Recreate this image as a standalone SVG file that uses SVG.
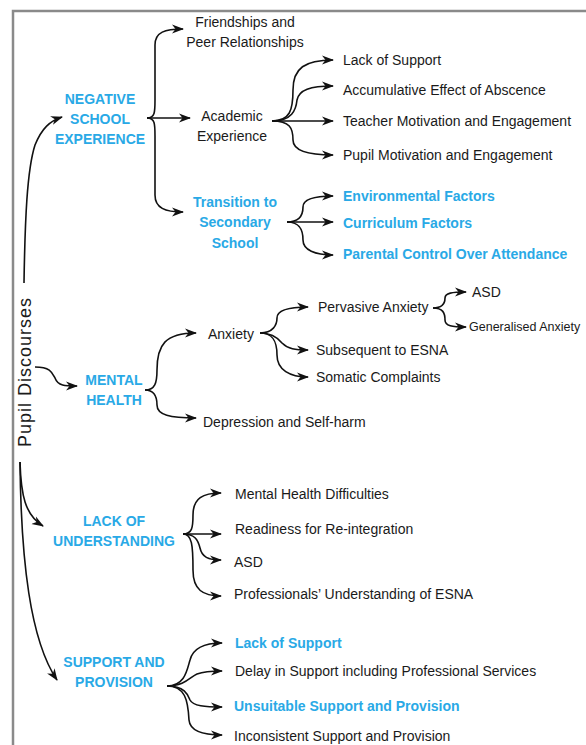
<svg xmlns="http://www.w3.org/2000/svg" width="586" height="745" viewBox="0 0 586 745">
<defs>
<marker id="ah" viewBox="0 0 12 10" refX="11" refY="5" markerWidth="12" markerHeight="10" markerUnits="userSpaceOnUse" orient="auto">
<path d="M0,0.5 L12,5 L0,9.5 L3.5,5 z" fill="#111"/>
</marker>
<style>
.t{font-family:"Liberation Sans",Arial,sans-serif;font-size:14px;fill:#1a1a1a}
.b{font-family:"Liberation Sans",Arial,sans-serif;font-size:14px;font-weight:bold;fill:#29a9e6}
.c{text-anchor:middle}
.e{fill:none;stroke:#111;stroke-width:1.6;marker-end:url(#ah)}
</style>
</defs>
<rect width="586" height="745" fill="#fff"/>
<path d="M13,745 L13,11 L586,11" fill="none" stroke="#8a8a8a" stroke-width="2.5"/>

<g id="connectors">
<path class="e" d="M24,283 C25,220 27,170 35,145 C42,128 50,121 62,117"/>
<path class="e" d="M35,367 C50,367 52,372 55,378 C58,386 65,386 77,386"/>
<path class="e" d="M20,462 C21,495 25,515 43,526"/>
<path class="e" d="M20,462 C21,560 30,640 57,680"/>

<path class="e" d="M147,118 C155,118 155,112 155,100 L155,45 C155,32 165,29 183,29"/>
<path class="e" d="M147,118 L190,118"/>
<path class="e" d="M147,118 C155,118 155,124 155,136 L155,195 C155,208 165,212 183,212"/>

<path class="e" d="M272,121 C290,121 293,110 293,90 C293,68 305,60 333,60"/>
<path class="e" d="M272,121 C292,121 296,110 297,100 C299,90 310,86 333,86"/>
<path class="e" d="M272,121 L333,121"/>
<path class="e" d="M272,121 C290,121 293,128 293,140 C293,150 305,155 333,155"/>

<path class="e" d="M287,222 C300,222 303,215 303,207 C303,199 315,196 333,196"/>
<path class="e" d="M287,222 L333,222"/>
<path class="e" d="M287,222 C300,222 303,230 303,240 C303,250 315,255 333,255"/>

<path class="e" d="M145,390 C155,390 157,383 157,370 C157,345 165,333 196,333"/>
<path class="e" d="M145,390 C155,390 157,398 157,405 C157,415 170,418 196,418"/>

<path class="e" d="M260,333 C273,333 277,325 277,318 C277,310 290,307 308,307"/>
<path class="e" d="M260,333 C272,333 278,338 282,343 C288,349 295,350 308,350"/>
<path class="e" d="M260,333 C272,333 277,340 277,355 C277,370 290,377 308,377"/>

<path class="e" d="M433,308 C443,308 445,303 445,298 C445,293 452,292 466,292"/>
<path class="e" d="M433,308 C443,308 445,313 445,320 C445,326 452,327 466,327"/>

<path class="e" d="M183,534 C192,534 193,528 193,515 C193,498 203,493 221,493"/>
<path class="e" d="M183,534 L221,534"/>
<path class="e" d="M183,534 C195,534 198,540 200,548 C202,557 208,560 221,560"/>
<path class="e" d="M183,534 C192,534 193,545 193,570 C193,590 203,596 221,596"/>

<path class="e" d="M167,686 C185,686 187,670 190,660 C193,648 205,643 222,643"/>
<path class="e" d="M167,686 C185,686 190,677 197,674 C205,671 212,671 222,671"/>
<path class="e" d="M167,686 C185,686 188,695 190,700 C193,706 205,707 222,707"/>
<path class="e" d="M167,686 C185,686 188,700 189,720 C190,732 205,735 222,735"/>
</g>

<g id="root"><text transform="translate(31,372) rotate(-90)" text-anchor="middle" font-family="Liberation Sans, Arial, sans-serif" font-size="18" letter-spacing="1" fill="#1a1a1a">Pupil Discourses</text></g>

<g id="negative"><text class="b c" x="100" y="104">NEGATIVE</text><text class="b c" x="100" y="124">SCHOOL</text><text class="b c" x="100" y="144">EXPERIENCE</text></g>
<g id="friendships"><text class="t c" x="245" y="27">Friendships and</text><text class="t c" x="245" y="47">Peer Relationships</text></g>
<g id="academic"><text class="t c" x="232" y="121">Academic</text><text class="t c" x="232" y="141">Experience</text></g>
<g id="transition"><text class="b c" x="235" y="207">Transition to</text><text class="b c" x="235" y="227">Secondary</text><text class="b c" x="235" y="248">School</text></g>
<g id="a1"><text class="t" x="343" y="65">Lack of Support</text></g>
<g id="a2"><text class="t" x="343" y="95">Accumulative Effect of Abscence</text></g>
<g id="a3"><text class="t" x="343" y="126">Teacher Motivation and Engagement</text></g>
<g id="a4"><text class="t" x="343" y="160">Pupil Motivation and Engagement</text></g>
<g id="t1"><text class="b" x="343" y="201">Environmental Factors</text></g>
<g id="t2"><text class="b" x="343" y="228">Curriculum Factors</text></g>
<g id="t3"><text class="b" x="343" y="259">Parental Control Over Attendance</text></g>

<g id="mental"><text class="b c" x="114" y="385">MENTAL</text><text class="b c" x="114" y="405">HEALTH</text></g>
<g id="anxiety"><text class="t" x="208" y="339">Anxiety</text></g>
<g id="pervasive"><text class="t" x="318" y="312">Pervasive Anxiety</text></g>
<g id="asd1"><text class="t" x="472" y="297">ASD</text></g>
<g id="generalised"><text class="t" x="469" y="331" style="font-size:12.5px">Generalised Anxiety</text></g>
<g id="subsequent"><text class="t" x="316" y="355">Subsequent to ESNA</text></g>
<g id="somatic"><text class="t" x="316" y="382">Somatic Complaints</text></g>
<g id="depression"><text class="t" x="203" y="427">Depression and Self-harm</text></g>

<g id="lack"><text class="b c" x="114" y="526">LACK OF</text><text class="b c" x="114" y="546">UNDERSTANDING</text></g>
<g id="l1"><text class="t" x="235" y="499">Mental Health Difficulties</text></g>
<g id="l2"><text class="t" x="235" y="534">Readiness for Re-integration</text></g>
<g id="l3"><text class="t" x="234" y="567">ASD</text></g>
<g id="l4"><text class="t" x="234" y="599">Professionals’ Understanding of ESNA</text></g>

<g id="support"><text class="b c" x="114" y="667">SUPPORT AND</text><text class="b c" x="114" y="687">PROVISION</text></g>
<g id="s1"><text class="b" x="235" y="648">Lack of Support</text></g>
<g id="s2"><text class="t" x="235" y="676">Delay in Support including Professional Services</text></g>
<g id="s3"><text class="b" x="234" y="711">Unsuitable Support and Provision</text></g>
<g id="s4"><text class="t" x="234" y="741">Inconsistent Support and Provision</text></g>
</svg>
